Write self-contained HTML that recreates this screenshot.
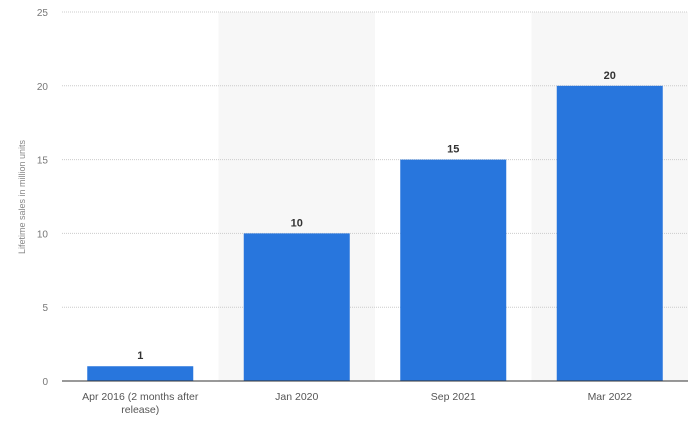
<!DOCTYPE html>
<html><head><meta charset="utf-8"><style>
body{margin:0;background:#fff;width:700px;height:426px;overflow:hidden;font-family:"Liberation Sans",sans-serif}
</style></head><body>
<svg id="chart" width="700" height="426" xmlns="http://www.w3.org/2000/svg">
<text transform="translate(25,197) rotate(-90)" text-anchor="middle" font-size="9" fill="#888">Lifetime sales in million units</text>
</svg>
<script>
const categories=["Apr 2016 (2 months after|release)","Jan 2020","Sep 2021","Mar 2022"];
const values=[1,10,15,20];
const yTicks=[0,5,10,15,20,25];
const svg=document.getElementById('chart');
const NS='http://www.w3.org/2000/svg';
const x0=62,x1=688,y0=381,yTop=12,yMax=25;
const bw=(x1-x0)/categories.length;
const y=v=>y0-(v/yMax)*(y0-yTop);
const xc=i=>x0+bw*(i+0.5);
function mk(t,a){const e=document.createElementNS(NS,t);for(const k in a)e.setAttribute(k,a[k]);svg.appendChild(e);return e;}
categories.forEach((c,i)=>{if(i%2===1){const r=mk('rect',{x:x0+bw*i,y:yTop,width:bw,height:y0-yTop,fill:'#f7f7f7'});

}});
yTicks.forEach(t=>{
 if(t>0){const l=mk('line',{x1:x0,x2:x1,y1:y(t),y2:y(t),stroke:'#ccc','stroke-dasharray':'1,1'});
 
 }
 const tx=mk('text',{x:48,y:y(t)+4,'text-anchor':'end','font-size':'10',fill:'#777'});tx.textContent=t;
 
 
});
values.forEach((v,i)=>{
 const r=mk('rect',{x:xc(i)-53,y:y(v),width:106,height:y0-y(v),fill:'#2876dd'});
 
 
 const t=mk('text',{x:xc(i),y:y(v)-7,'text-anchor':'middle','font-size':'11','font-weight':'bold',fill:'#333'});t.textContent=v;
 
 
 categories[i].split('|').forEach((s,j)=>{const c=mk('text',{x:xc(i),y:400+j*13,'text-anchor':'middle','font-size':'10.5',fill:'#555'});c.textContent=s;
 
 });
});
const ax=mk('line',{x1:x0,x2:x1,y1:y0,y2:y0,stroke:'#333','stroke-width':1});


</script>
</body></html>
